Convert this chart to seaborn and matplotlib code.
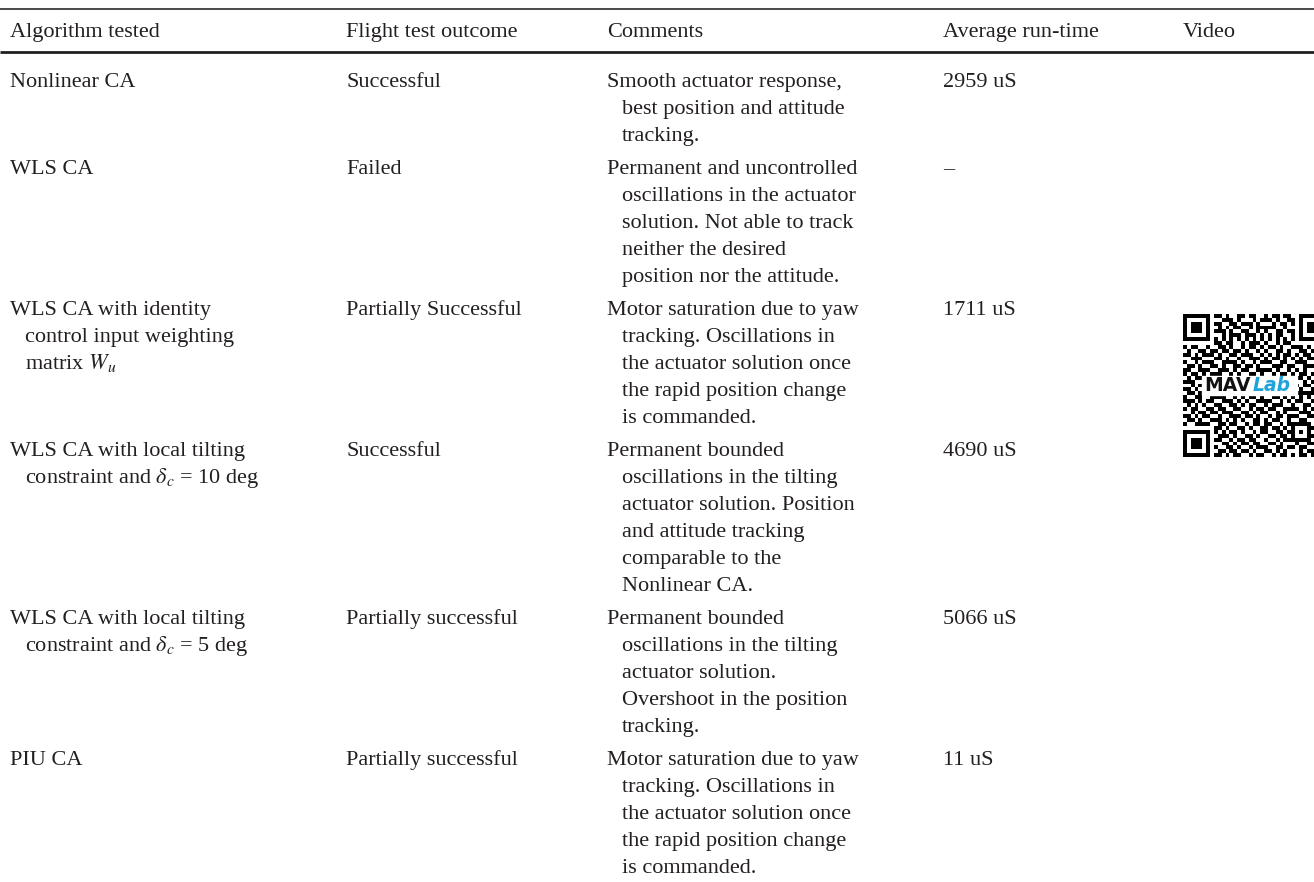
import numpy as np
import matplotlib
matplotlib.use("Agg")
import matplotlib.pyplot as plt
import seaborn as sns

headers = ["Algorithm tested", "Flight test outcome", "Comments", "Average run-time", "Video"]

algorithms = [
    ["Nonlinear CA"],
    ["WLS CA"],
    ["WLS CA with identity", "control input weighting", "matrix $W_u$"],
    ["WLS CA with local tilting", r"constraint and $\delta_c$ = 10 deg"],
    ["WLS CA with local tilting", r"constraint and $\delta_c$ = 5 deg"],
    ["PIU CA"],
]

outcomes = ["Successful", "Failed", "Partially Successful", "Successful",
            "Partially successful", "Partially successful"]

comments = [
    ["Smooth actuator response,", "best position and attitude", "tracking."],
    ["Permanent and uncontrolled", "oscillations in the actuator", "solution. Not able to track",
     "neither the desired", "position nor the attitude."],
    ["Motor saturation due to yaw", "tracking. Oscillations in", "the actuator solution once",
     "the rapid position change", "is commanded."],
    ["Permanent bounded", "oscillations in the tilting", "actuator solution. Position",
     "and attitude tracking", "comparable to the", "Nonlinear CA."],
    ["Permanent bounded", "oscillations in the tilting", "actuator solution.",
     "Overshoot in the position", "tracking."],
    ["Motor saturation due to yaw", "tracking. Oscillations in", "the actuator solution once",
     "the rapid position change", "is commanded."],
]

runtimes = ["2959 uS", "\u2013", "1711 uS", "4690 uS", "5066 uS", "11 uS"]

# QR code modules of the video link (1 = black), 37 x 37
qr_rows = [
    "1111111 0 1101001 1011001 0110110 0 1111111",
    "1000001 0 0011101 0001011 1010011 0 1000001",
    "1011101 0 1100110 1110100 0101101 0 1011101",
    "1011101 0 0101011 0010111 1100100 0 1011101",
    "1011101 0 1110100 1100101 0011011 0 1011101",
    "1000001 0 0010111 0111010 1011001 0 1000001",
    "1111111 0 1010101 0101010 1010101 0 1111111",
    "00000000 1101100 1011101 0010110 00000000",
    "101100 1 0 0110100 1011010 1101001 1101 0010",
    "010011 0 1 1011011 0100101 0011010 0110 1101",
    "110101 1 1 0100110 1110010 1010110 1011 0100",
    "001110 0 0 1101001 0011101 0110101 0101 1011",
    "100101 1 1 0011110 1001011 1001100 1110 0101",
    "011010 0 1 1010011 0110100 0111011 0011 1010",
    "110011 1 0 0111010 1100111 1010010 1010 0111",
    "101101 0 1 1100101 0011010 0101101 0110 1001",
    "010110 1 1 0010110 1101001 1100110 1101 0110",
    "111001 0 0 1011001 0110110 0011011 0010 1101",
    "001011 1 1 0110111 0001101 1010100 1011 0011",
    "110100 0 1 1001010 1110010 0101111 0100 1110",
    "011011 1 0 0101101 0101101 1100010 1111 1010",
    "100110 0 1 1110010 1011010 0110101 0101 0110",
    "111010 1 1 0011101 0100111 1001010 1100 1011",
    "010101 0 0 1100110 1011001 0111001 0011 0101",
    "101100 1 1 0110011 0010110 1100111 1010 1100",
    "001011 0 1 1011100 1101011 0010100 0111 0011",
    "110101 1 0 0100111 0110100 1011011 1001 1110",
    "011010 0 1 1101010 1001101 0110010 0110 0101",
    "100111 1 0 01101 10010 11011 00101 11111 0110",
    "0000000 0 11010 01101 00110 11010 10001 1011",
    "1111111 0 10101 10100 10110 01101 10101 0101",
    "1000001 0 01110 10011 01001 10110 10001 1100",
    "1011101 0 11001 01101 10010 01011 11111 0110",
    "1011101 0 00110 10110 11001 10100 01001 1011",
    "1011101 0 10011 01001 01110 01101 10110 0101",
    "1000001 0 01101 10110 10011 01010 00101 1001",
    "1111111 0 11010 11001 01100 10110 10110 1100",
]

sns.set_theme(style="white")
plt.rcParams["font.family"] = ["Liberation Serif", "DejaVu Serif"]
plt.rcParams["mathtext.fontset"] = "stix"

ink = "#231f20"
fs = 16
col_x = [10, 346, 607, 943, 1183]
indent = 15
line_h = 26.9
row_gap = 6.5
base_off = 7

fig = plt.figure(figsize=(13.14, 8.82), dpi=100)
ax = fig.add_axes([0, 0, 1, 1])
ax.set_xlim(0, 1314)
ax.set_ylim(882, 0)
ax.axis("off")

# rules
ax.plot([0, 1314], [9, 9], color="#3a3a3a", lw=1.3, solid_capstyle="butt")
ax.plot([0, 1314], [52, 52], color=ink, lw=2.0, solid_capstyle="butt")

for x, h in zip(col_x, headers):
    ax.text(x, 30 + base_off, h, fontsize=fs, color=ink, va="baseline", ha="left")


def cell(x, y, lines):
    for i, s in enumerate(lines):
        ax.text(x + (indent if i > 0 else 0), y + i * line_h + base_off, s,
                fontsize=fs, color=ink, va="baseline", ha="left")


y = 80
for alg, out, com, rt in zip(algorithms, outcomes, comments, runtimes):
    cell(col_x[0], y, alg)
    cell(col_x[1], y, [out])
    cell(col_x[2], y, com)
    cell(col_x[3], y, [rt])
    n = max(len(alg), len(com))
    y += n * line_h + row_gap

# QR code with the MAVLab logo (right part runs off the page)
qr = np.array([[int(c) for c in r.replace(" ", "").ljust(37, "0")[:37]] for r in qr_rows])
qx, qy, qw, qh = 1183, 314, 143, 143
qax = fig.add_axes([qx / 1314, 1 - (qy + qh) / 882, qw / 1314, qh / 882])
sns.heatmap(qr, ax=qax, cmap=["white", "black"], cbar=False,
            xticklabels=False, yticklabels=False, linewidths=0)
qax.set_axis_off()
qax.add_patch(plt.Rectangle((4.8, 16.0), 24.6, 5.0, color="white", zorder=3))
qax.text(5.6, 18.6, "MAV", fontsize=13.5, fontweight="bold", family="DejaVu Sans",
         color="#111111", va="center", ha="left", zorder=4)
qax.text(18.1, 18.6, "Lab", fontsize=13.5, fontweight="bold", fontstyle="italic",
         family="DejaVu Sans", color="#1ea3dc", va="center", ha="left", zorder=4)

fig.savefig("out.png", dpi=100)
